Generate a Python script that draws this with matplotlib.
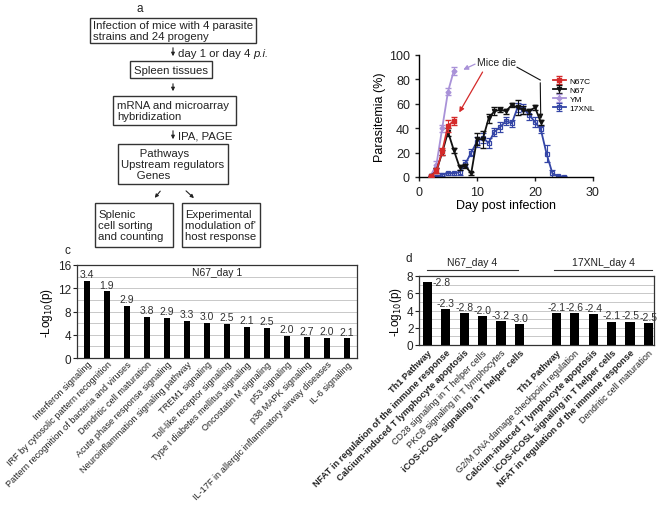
import matplotlib
matplotlib.use("Agg")
import matplotlib.pyplot as plt
from matplotlib.patches import Rectangle
import numpy as np

plt.rcParams['font.family'] = ['Liberation Sans', 'DejaVu Sans']

# ---------------- data ----------------
# panel b
ym_days = [2, 3, 4, 5, 6]
ym_vals = [1, 10, 40, 70, 87]
ym_err = [1, 3, 3, 3, 3]

n67c_days = [2, 3, 4, 5, 6]
n67c_vals = [0.5, 5, 21, 42, 46]
n67c_err = [0.5, 2, 3, 5, 3]

n67_days = list(range(2, 22))
n67_vals = [0.5, 5, 20, 37, 22, 8, 9, 3, 31, 31, 48, 54, 55, 54, 59, 57, 55, 54, 57, 45]
n67_err = [0.5, 2, 2, 3, 2, 2, 2, 1, 5, 7, 4, 3, 2, 2, 2, 6, 3, 2, 2, 2]

x17_days = list(range(2, 26))
x17_vals = [0, 0, 2, 3, 3, 4, 11, 20, 29, 32, 28, 37, 41, 46, 44, 57, 56, 51, 45, 39, 19, 3, 0.5, 0]
x17_err = [0.5, 0.5, 1, 1, 1, 2, 3, 3, 4, 4, 4, 3, 4, 3, 3, 4, 4, 4, 4, 3, 7, 3, 1, 0.5]

# panel c
c_cats = ["Interferon signaling", "IRF by cytosolic pattern recognition",
          "Pattern recognition of bacteria and viruses", "Dendritic cell maturation",
          "Acute phase response signaling", "Neuroinflammation signaling pathway",
          "TREM1 signaling", "Toll-like receptor signaling",
          "Type I diabetes mellitus signaling", "Oncostatin M signaling",
          "p53 signaling", "p38 MAPK signaling",
          "IL-17F in allergic inflammatory airway diseases", "IL-6 signaling"]
c_vals = [13.3, 11.5, 9.0, 7.1, 6.9, 6.4, 6.1, 5.9, 5.4, 5.2, 3.8, 3.6, 3.5, 3.4]
c_z = ["3.4", "1.9", "2.9", "3.8", "2.9", "3.3", "3.0", "2.5", "2.1", "2.5", "2.0", "2.7", "2.0", "2.1"]

# panel d
d_cats = ["Th1 Pathway", "NFAT in regulation of the immune response",
          "Calcium-induced T lymphocyte apoptosis", "CD28 signaling in T helper cells",
          "PKC\u03b8 signaling in T lymphocytes", "iCOS-iCOSL signaling in T helper cells",
          "Th1 Pathway", "G2/M DNA damage checkpoint regulation",
          "Calcium-induced T lymphocyte apoptosis", "iCOS-iCOSL signaling in T helper cells",
          "NFAT in regulation of the immune response", "Dendritic cell maturation"]
d_bold = [True, True, True, False, False, True, True, False, True, True, True, False]
d_vals = [7.3, 4.15, 3.7, 3.35, 2.8, 2.45, 3.7, 3.7, 3.6, 2.7, 2.7, 2.55]
d_z = ["-2.8", "-2.3", "-2.8", "-2.0", "-3.2", "-3.0", "-2.1", "-2.6", "-2.4", "-2.1", "-2.5", "-2.5"]
d_pos = [0, 1, 2, 3, 4, 5, 7, 8, 9, 10, 11, 12]
d_groups = ["N67_day 4", "17XNL_day 4"]

W, H = 660, 506
fig = plt.figure(figsize=(6.6, 5.06), dpi=100)

def fx(px):
    return px / W

def fy(py):
    return 1 - py / H

# ---------------- overlay (panel a + labels) ----------------
ov = fig.add_axes([0, 0, 1, 1])
ov.set_xlim(0, W)
ov.set_ylim(H, 0)
ov.axis('off')
ov.patch.set_visible(False)

fs_a = 8.2
boxes = [
    (90, 19, 166, 25, "Infection of mice with 4 parasite\nstrains and 24 progeny", 'left', 93),
    (130, 62, 82, 17, "Spleen tissues", 'left', 134),
    (113, 97, 123, 29, "mRNA and microarray\nhybridization", 'left', 117),
    (118, 145, 110, 40, "      Pathways\nUpstream regulators\n     Genes", 'left', 121),
    (95, 204, 78, 44, "Splenic\ncell sorting\nand counting", 'left', 98),
    (182, 204, 78, 44, "Experimental\nmodulation of'\nhost response", 'left', 185),
]
for x, y, w, h, txt, ha, tx in boxes:
    ov.add_patch(Rectangle((x, y), w, h, fill=False, lw=1.0, ec='#333333'))
    ov.text(tx, y + h / 2, txt, ha=ha, va='center', fontsize=fs_a, color='#222222',
            linespacing=1.15)

arrow_kw = dict(arrowstyle='-|>', lw=0.8, color='#222222', mutation_scale=5)
for (x0, y0, x1, y1) in [(173, 46, 173, 60), (173, 82, 173, 95), (173, 129, 173, 143),
                         (162, 190, 153, 201), (184, 190, 196, 201)]:
    ov.annotate("", xy=(x1, y1), xytext=(x0, y0), arrowprops=arrow_kw)
t1 = ov.text(178, 54, "day 1 or day 4", fontsize=fs_a, va='center', ha='left', color='#222222')
fig.canvas.draw()
bb = t1.get_window_extent()
x_end_px = bb.x1  # display pixels (origin bottom-left), equals figure pixels at dpi 100
ov.text(x_end_px + 3, 54, "p.i.", fontsize=fs_a, va='center', ha='left', style='italic',
        color='#222222')
ov.text(178, 136, "IPA, PAGE", fontsize=fs_a, va='center', ha='left', color='#222222')

for lab, (x, y) in zip("abcd", [(140, 9), (477, 93), (67, 251), (409, 259)]):
    ov.text(x, y, lab, fontsize=8.5, ha='center', va='center', color='#222222')

# ---------------- panel b ----------------
axb = fig.add_axes([fx(419), fy(178), fx(593) - fx(419), fy(56) - fy(178)])
axb.spines['top'].set_visible(False)
axb.spines['right'].set_visible(False)
for s in ['left', 'bottom']:
    axb.spines[s].set_linewidth(1.0)
col_red, col_blk, col_pur, col_blu = '#d42a2a', '#111111', '#a992d8', '#3445a6'
axb.errorbar(ym_days, ym_vals, yerr=ym_err, color=col_pur, marker='D', ms=2.5,
             lw=1.3, capsize=2, elinewidth=0.8, label='YM', zorder=3)
axb.errorbar(x17_days, x17_vals, yerr=x17_err, color=col_blu, marker='s', ms=3.5,
             mfc='none', mew=0.9, lw=1.3, capsize=2, elinewidth=0.8, label='17XNL', zorder=2)
axb.errorbar(n67_days, n67_vals, yerr=n67_err, color=col_blk, marker='v', ms=3,
             lw=1.3, capsize=2, elinewidth=0.8, label='N67', zorder=4)
axb.errorbar(n67c_days, n67c_vals, yerr=n67c_err, color=col_red, marker='s', ms=3,
             lw=1.3, capsize=2, elinewidth=0.8, label='N67C', zorder=5)
axb.set_xlim(0, 30)
axb.set_ylim(0, 100)
axb.set_xticks([0, 10, 20, 30])
axb.set_yticks([0, 20, 40, 60, 80, 100])
axb.tick_params(labelsize=9, length=3, width=1.0, colors='#222222')
axb.set_xlabel("Day post infection", fontsize=9, labelpad=1)
axb.set_ylabel("Parasitemia (%)", fontsize=9, labelpad=2)

h, l = axb.get_legend_handles_labels()
order = [l.index(n) for n in ['N67C', 'N67', 'YM', '17XNL']]
axb.legend([h[i] for i in order], [l[i] for i in order], loc='upper left',
           bbox_to_anchor=(0.74, 0.86), fontsize=6, frameon=False, handlelength=1.6,
           labelspacing=0.15, borderpad=0.1, handletextpad=0.4)

axb.text(13.4, 94, "Mice die", fontsize=7.5, ha='center', va='center', color='#222222')
axb.annotate("", xy=(ym_days[-1] + 1.2, ym_vals[-1]), xytext=(10.1, 93.5),
             arrowprops=dict(arrowstyle='-|>', color=col_pur, lw=0.9, mutation_scale=7))
axb.annotate("", xy=(n67c_days[-1] + 0.7, n67c_vals[-1] + 5), xytext=(11.2, 88),
             arrowprops=dict(arrowstyle='-|>', color=col_red, lw=0.9, mutation_scale=7))
axb.plot([16.9, 20.9], [90, 79.5], color=col_blk, lw=0.8)
axb.annotate("", xy=(n67_days[-1], n67_vals[-1]), xytext=(20.9, 79.5),
             arrowprops=dict(arrowstyle='-|>', color=col_blk, lw=0.8, mutation_scale=7))

# ---------------- panel c ----------------
axc = fig.add_axes([fx(77), fy(359), fx(357) - fx(77), fy(266) - fy(359)])
xc = np.arange(len(c_cats))
axc.bar(xc, c_vals, width=0.3, color='black', zorder=3)
axc.set_xlim(-0.5, len(c_cats) - 0.5)
axc.set_ylim(0, 16)
axc.set_yticks([0, 4, 8, 12, 16])
axc.set_yticks(np.arange(0, 17, 2), minor=True)
axc.grid(which='both', axis='y', color='#c8c8c8', lw=0.7, zorder=0)
axc.set_axisbelow(True)
axc.tick_params(axis='y', which='minor', length=0)
axc.tick_params(axis='y', which='major', labelsize=8.5, length=3, pad=1, colors='#222222')
axc.tick_params(axis='x', length=0, pad=1)
axc.set_xticks(xc)
axc.set_xticklabels(c_cats, rotation=45, ha='right', rotation_mode='anchor',
                    fontsize=6.6, color='#222222')
for s in axc.spines.values():
    s.set_linewidth(0.9)
    s.set_color('#333333')
for x, v, z in zip(xc, c_vals, c_z):
    axc.text(x, v + 0.25, z, ha='center', va='bottom', fontsize=7.5, color='#333333')
axc.text(0.5, 0.93, "N67_day 1", transform=axc.transAxes, ha='center', va='center',
         fontsize=7.5, color='#222222')
axc.set_ylabel("-Log$_{10}$(p)", fontsize=8.5, labelpad=2)

# ---------------- panel d ----------------
axd = fig.add_axes([fx(419), fy(346), fx(654) - fx(419), fy(277) - fy(346)])
axd.bar(d_pos, d_vals, width=0.5, color='black', zorder=3)
axd.set_xlim(-0.45, 12.3)
axd.set_ylim(0, 8)
axd.set_yticks([0, 2, 4, 6, 8])
axd.set_yticks(np.arange(0, 9, 1), minor=True)
axd.grid(which='both', axis='y', color='#c8c8c8', lw=0.7, zorder=0)
axd.set_axisbelow(True)
axd.tick_params(axis='y', which='minor', length=0)
axd.tick_params(axis='y', which='major', labelsize=8.5, length=3, pad=1, colors='#222222')
axd.tick_params(axis='x', length=0, pad=2)
axd.set_xticks(d_pos)
axd.set_xticklabels(d_cats, rotation=45, ha='right', rotation_mode='anchor',
                    fontsize=6.6, color='#222222')
for t, b in zip(axd.get_xticklabels(), d_bold):
    if b:
        t.set_fontweight('bold')
for s in axd.spines.values():
    s.set_linewidth(0.9)
    s.set_color('#333333')
for i, (x, v, z) in enumerate(zip(d_pos, d_vals, d_z)):
    if i == 0:
        axd.text(x + 0.3, v, z, ha='left', va='center', fontsize=7.5, color='#333333')
    else:
        axd.text(x, v + 0.15, z, ha='center', va='bottom', fontsize=7.5, color='#333333')
axd.set_ylabel("-Log$_{10}$(p)", fontsize=8.5, labelpad=2)

tr = axd.get_xaxis_transform()
for (x0, x1), g in zip([(0, 4.9), (6.9, 12.2)], d_groups):
    axd.plot([x0, x1], [1.09, 1.09], transform=tr, color='#333333', lw=0.8, clip_on=False)
    axd.text((x0 + x1) / 2, 1.2, g, transform=tr, ha='center', va='center',
             fontsize=7.5, color='#222222')

fig.savefig("out.png", dpi=100)
